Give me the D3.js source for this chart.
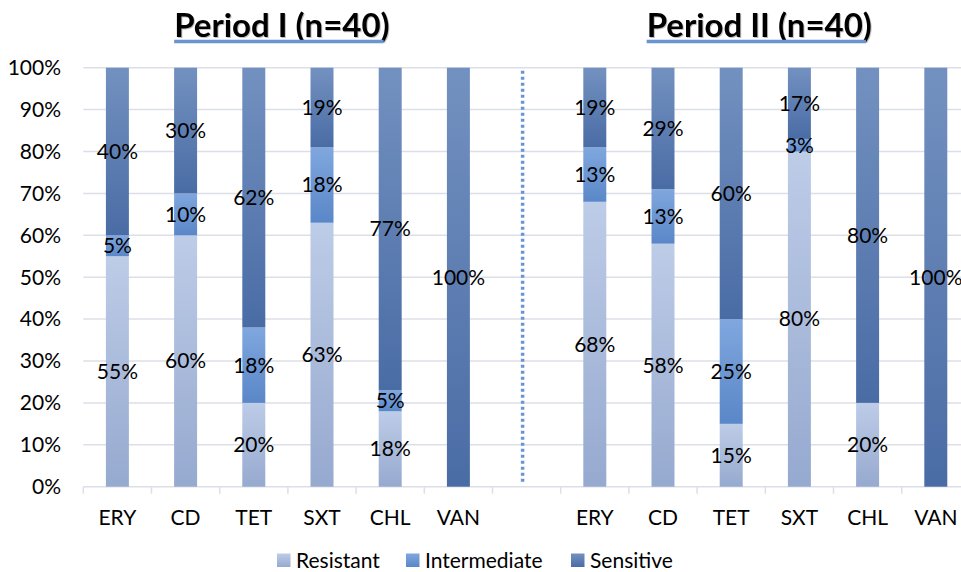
<!DOCTYPE html>
<html>
<head>
<meta charset="utf-8">
<script src="https://cdn.jsdelivr.net/npm/d3@7"></script>
<style>
  html, body { margin: 0; padding: 0; background: #fff; }
  svg { display: block; }
  text { font-family: Lato, "Open Sans", sans-serif; }
</style>
</head>
<body>
<svg id="chart" width="961" height="572"></svg>
<script>
// ---- data ----
const categories = ["ERY", "CD", "TET", "SXT", "CHL", "VAN", "", "ERY", "CD", "TET", "SXT", "CHL", "VAN"];
const resistant    = [55, 60, 20, 63, 18, 0,   null, 68, 58, 15, 80, 20, 0];
const intermediate = [5, 10, 18, 18, 5, 0,     null, 13, 13, 25, 3, 0, 0];
const sensitive    = [40, 30, 62, 19, 77, 100, null, 19, 29, 60, 17, 80, 100];
const seriesNames = ["Resistant", "Intermediate", "Sensitive"];
const yTicks = [0, 10, 20, 30, 40, 50, 60, 70, 80, 90, 100];
const titles = ["Period I (n=40)", "Period II (n=40)"];

(function () {
// ---- layout ----
const svg = d3.select("#chart");
const pLeft = 83.3, pRight = 969.9, pTop = 67.7, pBottom = 486.7;
const fs = 21;
const keys = categories.map((c, i) => i);

const x = d3.scaleBand().domain(keys).range([pLeft, pRight])
  .paddingInner(0.663).paddingOuter(0.3315);
const y = d3.scaleLinear().domain([0, 100]).range([pBottom, pTop]);
const step = x.step();

const colors = {
  Resistant:    ["#bdcce7", "#96a9cf"],
  Intermediate: ["#80a7de", "#5a87c8"],
  Sensitive:    ["#7391c0", "#4a6ca5"]
};

const defs = svg.append("defs");
seriesNames.forEach(n => {
  const g = defs.append("linearGradient").attr("id", "g-" + n)
    .attr("x1", 0).attr("y1", 0).attr("x2", 0).attr("y2", 1);
  g.append("stop").attr("offset", "0%").attr("stop-color", colors[n][0]);
  g.append("stop").attr("offset", "100%").attr("stop-color", colors[n][1]);
});
const f = defs.append("filter").attr("id", "shadow").attr("x", "-5%").attr("y", "-20%").attr("width", "110%").attr("height", "140%");
f.append("feDropShadow").attr("dx", 1).attr("dy", 1).attr("stdDeviation", 0.6)
  .attr("flood-color", "#000").attr("flood-opacity", 0.25);

// gridlines
svg.append("g").selectAll("line").data(yTicks).join("line")
  .attr("x1", pLeft).attr("x2", pRight)
  .attr("y1", d => y(d)).attr("y2", d => y(d))
  .attr("stroke", "#dcdfe7").attr("stroke-width", 1.5);

// y tick labels
svg.append("g").selectAll("text").data(yTicks).join("text")
  .attr("x", 61).attr("y", d => y(d))
  .attr("dy", "0.35em").attr("text-anchor", "end")
  .attr("font-size", fs).attr("fill", "#000")
  .text(d => d + "%");

// x axis ticks at slot boundaries
const boundaries = d3.range(categories.length + 1).map(i => pLeft + i * step);
svg.append("g").selectAll("line").data(boundaries).join("line")
  .attr("x1", d => d).attr("x2", d => d)
  .attr("y1", pBottom).attr("y2", pBottom + 7)
  .attr("stroke", "#dcdfe7").attr("stroke-width", 1.5);

// category labels
svg.append("g").selectAll("text").data(keys).join("text")
  .attr("x", d => x(d) + x.bandwidth() / 2).attr("y", 525)
  .attr("text-anchor", "middle").attr("font-size", fs).attr("fill", "#000")
  .text(d => categories[d]);

// stacked data
const rows = keys.filter(i => resistant[i] !== null).map(i => ({
  i, Resistant: resistant[i], Intermediate: intermediate[i], Sensitive: sensitive[i]
}));
const stack = d3.stack().keys(seriesNames)(rows);

const barG = svg.append("g");
stack.forEach(layer => {
  barG.selectAll(null).data(layer.filter(d => d[1] - d[0] > 0)).join("rect")
    .attr("x", d => x(d.data.i))
    .attr("width", x.bandwidth())
    .attr("y", d => y(d[1]))
    .attr("height", d => y(d[0]) - y(d[1]))
    .attr("fill", "url(#g-" + layer.key + ")");
});

// dotted separator in the gap slot
const gapIdx = categories.indexOf("");
const gx = x(gapIdx) + x.bandwidth() / 2 - 4;
svg.append("line")
  .attr("x1", gx).attr("x2", gx).attr("y1", pTop + 3).attr("y2", pBottom - 3)
  .attr("stroke", "#6a95d4").attr("stroke-width", 3.5)
  .attr("stroke-dasharray", "3 3");

// data labels
const labelG = svg.append("g");
stack.forEach(layer => {
  labelG.selectAll(null).data(layer.filter(d => d[1] - d[0] > 0)).join("text")
    .attr("x", d => x(d.data.i) + x.bandwidth() / 2)
    .attr("y", d => y((d[0] + d[1]) / 2))
    .attr("dy", "0.35em").attr("text-anchor", "middle")
    .attr("font-size", fs).attr("fill", "#000")
    .text(d => (d[1] - d[0]) + "%");
});

// titles
const titleCenters = [
  (x(0) + x(5) + x.bandwidth()) / 2 - 6,
  (x(7) + x(12) + x.bandwidth()) / 2 - 6
];
titles.forEach((t, k) => {
  const tx = svg.append("text")
    .attr("x", titleCenters[k]).attr("y", 37)
    .attr("text-anchor", "middle")
    .attr("font-size", 33).attr("font-weight", "bold").attr("fill", "#000")
    .attr("filter", "url(#shadow)")
    .text(t);
  const bb = tx.node().getBBox();
  svg.append("line")
    .attr("x1", bb.x).attr("x2", bb.x + bb.width - 6)
    .attr("y1", 41.5).attr("y2", 41.5)
    .attr("stroke", "#6a95d0").attr("stroke-width", 3.5);
});

// legend
const legendX = [277, 406, 571];
const lg = svg.append("g");
seriesNames.forEach((n, k) => {
  lg.append("rect").attr("x", legendX[k]).attr("y", 553.5)
    .attr("width", 13.5).attr("height", 13.5)
    .attr("fill", "url(#g-" + n + ")");
  lg.append("text").attr("x", legendX[k] + 19).attr("y", 567.5)
    .attr("font-size", fs).attr("fill", "#000").text(n);
});
})();
</script>
</body>
</html>
